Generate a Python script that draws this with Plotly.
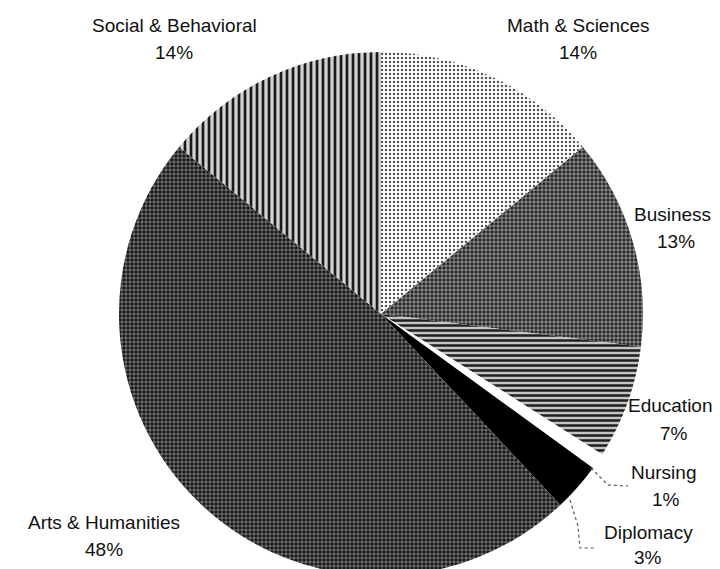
import plotly.graph_objects as go

# Data
categories = ["Math & Sciences", "Business", "Education", "Nursing", "Diplomacy",
              "Arts & Humanities", "Social & Behavioral"]
values = [14, 13, 7, 1, 3, 48, 14]

# Styles (grayscale hatch patterns, one per slice)
shapes_pat = [".", "+", "-", "", "", "+", "|"]
bg_colors = ["#ffffff", "#262626", "#c4c4c4", "#ffffff", "#000000", "#161616", "#d2d2d2"]
fg_colors = ["#555555", "#e8e8e8", "#1e1e1e", "#ffffff", "#000000", "#f2f2f2", "#1a1a1a"]
pat_size = [4, 4, 5, 4, 4, 4, 6]
pat_solid = [0.3, 0.25, 0.5, 0.3, 0.3, 0.2, 0.45]

W, H = 720, 569
cx, cy, r = 373, 306, 262

fig = go.Figure(go.Pie(
    labels=categories,
    values=values,
    sort=False,
    direction="clockwise",
    rotation=0,
    textinfo="none",
    hoverinfo="label+percent",
    showlegend=False,
    marker=dict(
        colors=bg_colors,
        line=dict(width=0),
        pattern=dict(shape=shapes_pat, bgcolor=bg_colors, fgcolor=fg_colors,
                     size=pat_size, solidity=pat_solid),
    ),
    domain=dict(x=[(cx - r) / W, (cx + r) / W],
                y=[(H - cy - r) / H, (H - cy + r) / H]),
))

# label positions in pixels: (label x, label y, pct x, pct y)
label_pos = {
    "Math & Sciences": (570, 17, 570, 45),
    "Business": (664, 207, 668, 234),
    "Education": (662, 397, 666, 425),
    "Nursing": (655, 464, 658, 491),
    "Diplomacy": (640, 524, 640, 549),
    "Arts & Humanities": (96, 514, 96, 541),
    "Social & Behavioral": (166, 17, 166, 44),
}

total = sum(values)
annotations = []
for cat, v in zip(categories, values):
    lx, ly, px, py = label_pos[cat]
    pct = f"{round(v / total * 100)}%"
    for txt, x, y in ((cat, lx, ly), (pct, px, py)):
        annotations.append(dict(
            text=txt, x=x / W, y=1 - y / H, xref="paper", yref="paper",
            showarrow=False, xanchor="center", yanchor="middle",
            font=dict(family="Liberation Sans, Arial, sans-serif", size=19, color="#111111"),
        ))

# leader lines (dotted)
def pline(points):
    path = "M " + " L ".join(f"{x/W},{1 - y/H}" for x, y in points)
    return dict(type="path", path=path, xref="paper", yref="paper",
                line=dict(color="#555555", width=1.2, dash="dot"))

shapes = [
    pline([(583, 460), (600, 477), (620, 478)]),
    pline([(562, 492), (570, 518), (572, 540), (588, 540)]),
]

fig.update_layout(
    width=W, height=H,
    margin=dict(l=0, r=0, t=0, b=0),
    paper_bgcolor="white",
    plot_bgcolor="white",
    annotations=annotations,
    shapes=shapes,
)

fig.write_html("out.html")
